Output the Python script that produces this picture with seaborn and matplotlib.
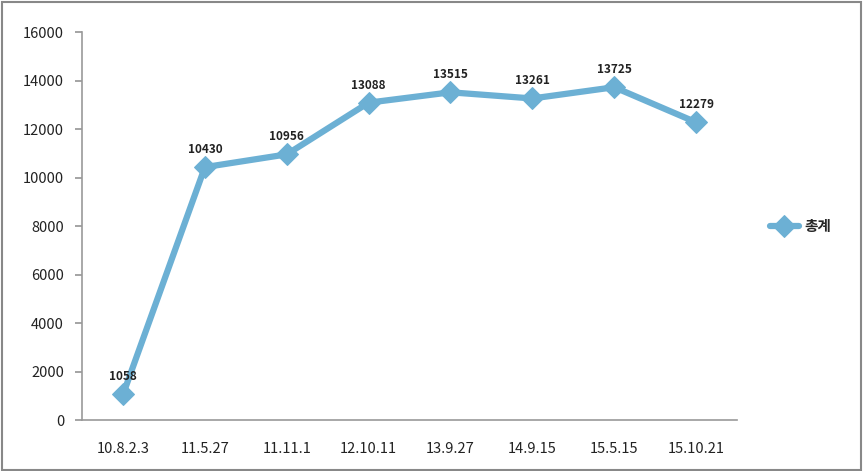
import matplotlib
matplotlib.use("Agg")
import matplotlib.pyplot as plt
import seaborn as sns
import pandas as pd
from matplotlib.patches import Rectangle

dates = ["10.8.2.3", "11.5.27", "11.11.1", "12.10.11", "13.9.27", "14.9.15", "15.5.15", "15.10.21"]
totals = [1058, 10430, 10956, 13088, 13515, 13261, 13725, 12279]
series_name = "총계"
yticks = [0, 2000, 4000, 6000, 8000, 10000, 12000, 14000, 16000]

sns.set_theme(style="white")
plt.rcParams['font.family'] = ['Noto Sans CJK KR', 'DejaVu Sans']

df = pd.DataFrame({"date": dates, "value": totals, "series": series_name})

fig = plt.figure(figsize=(8.64, 4.71), dpi=100)
ax = fig.add_axes([0.095, 0.108, 0.758, 0.824])
color = "#6cb0d4"
sns.lineplot(data=df, x="date", y="value", hue="series", palette=[color], marker="D",
             markersize=11, linewidth=4.5, markeredgecolor=color, ax=ax, sort=False)

for i, v in enumerate(totals):
    ax.annotate(str(v), (i, v), textcoords="offset points", xytext=(0, 8), ha="center",
                va="bottom", fontsize=8.5, fontweight="bold", color="#222222")

ax.set_xlim(-0.5, len(dates) - 0.5)
ax.set_ylim(0, 16000)
ax.set_yticks(yticks)
ax.set_xlabel("")
ax.set_ylabel("")
for s in ["top", "right"]:
    ax.spines[s].set_visible(False)
for s in ["left", "bottom"]:
    ax.spines[s].set_color("#999999")
    ax.spines[s].set_linewidth(1.2)
ax.tick_params(axis="y", left=True, length=5, color="#999999", labelsize=10.5, pad=8, labelcolor="#222222")
ax.tick_params(axis="x", bottom=False, labelsize=10.5, pad=10, labelcolor="#222222")

leg = ax.legend(loc="center left", bbox_to_anchor=(1.03, 0.5), frameon=False, fontsize=10.5,
                handlelength=2.0, handletextpad=0.4)
for t in leg.get_texts():
    t.set_fontweight("bold")

fig.patches.append(Rectangle((0.002, 0.003), 0.995, 0.993, transform=fig.transFigure,
                             fill=False, edgecolor="#888888", linewidth=1.5))
fig.savefig("out.png", dpi=100)
